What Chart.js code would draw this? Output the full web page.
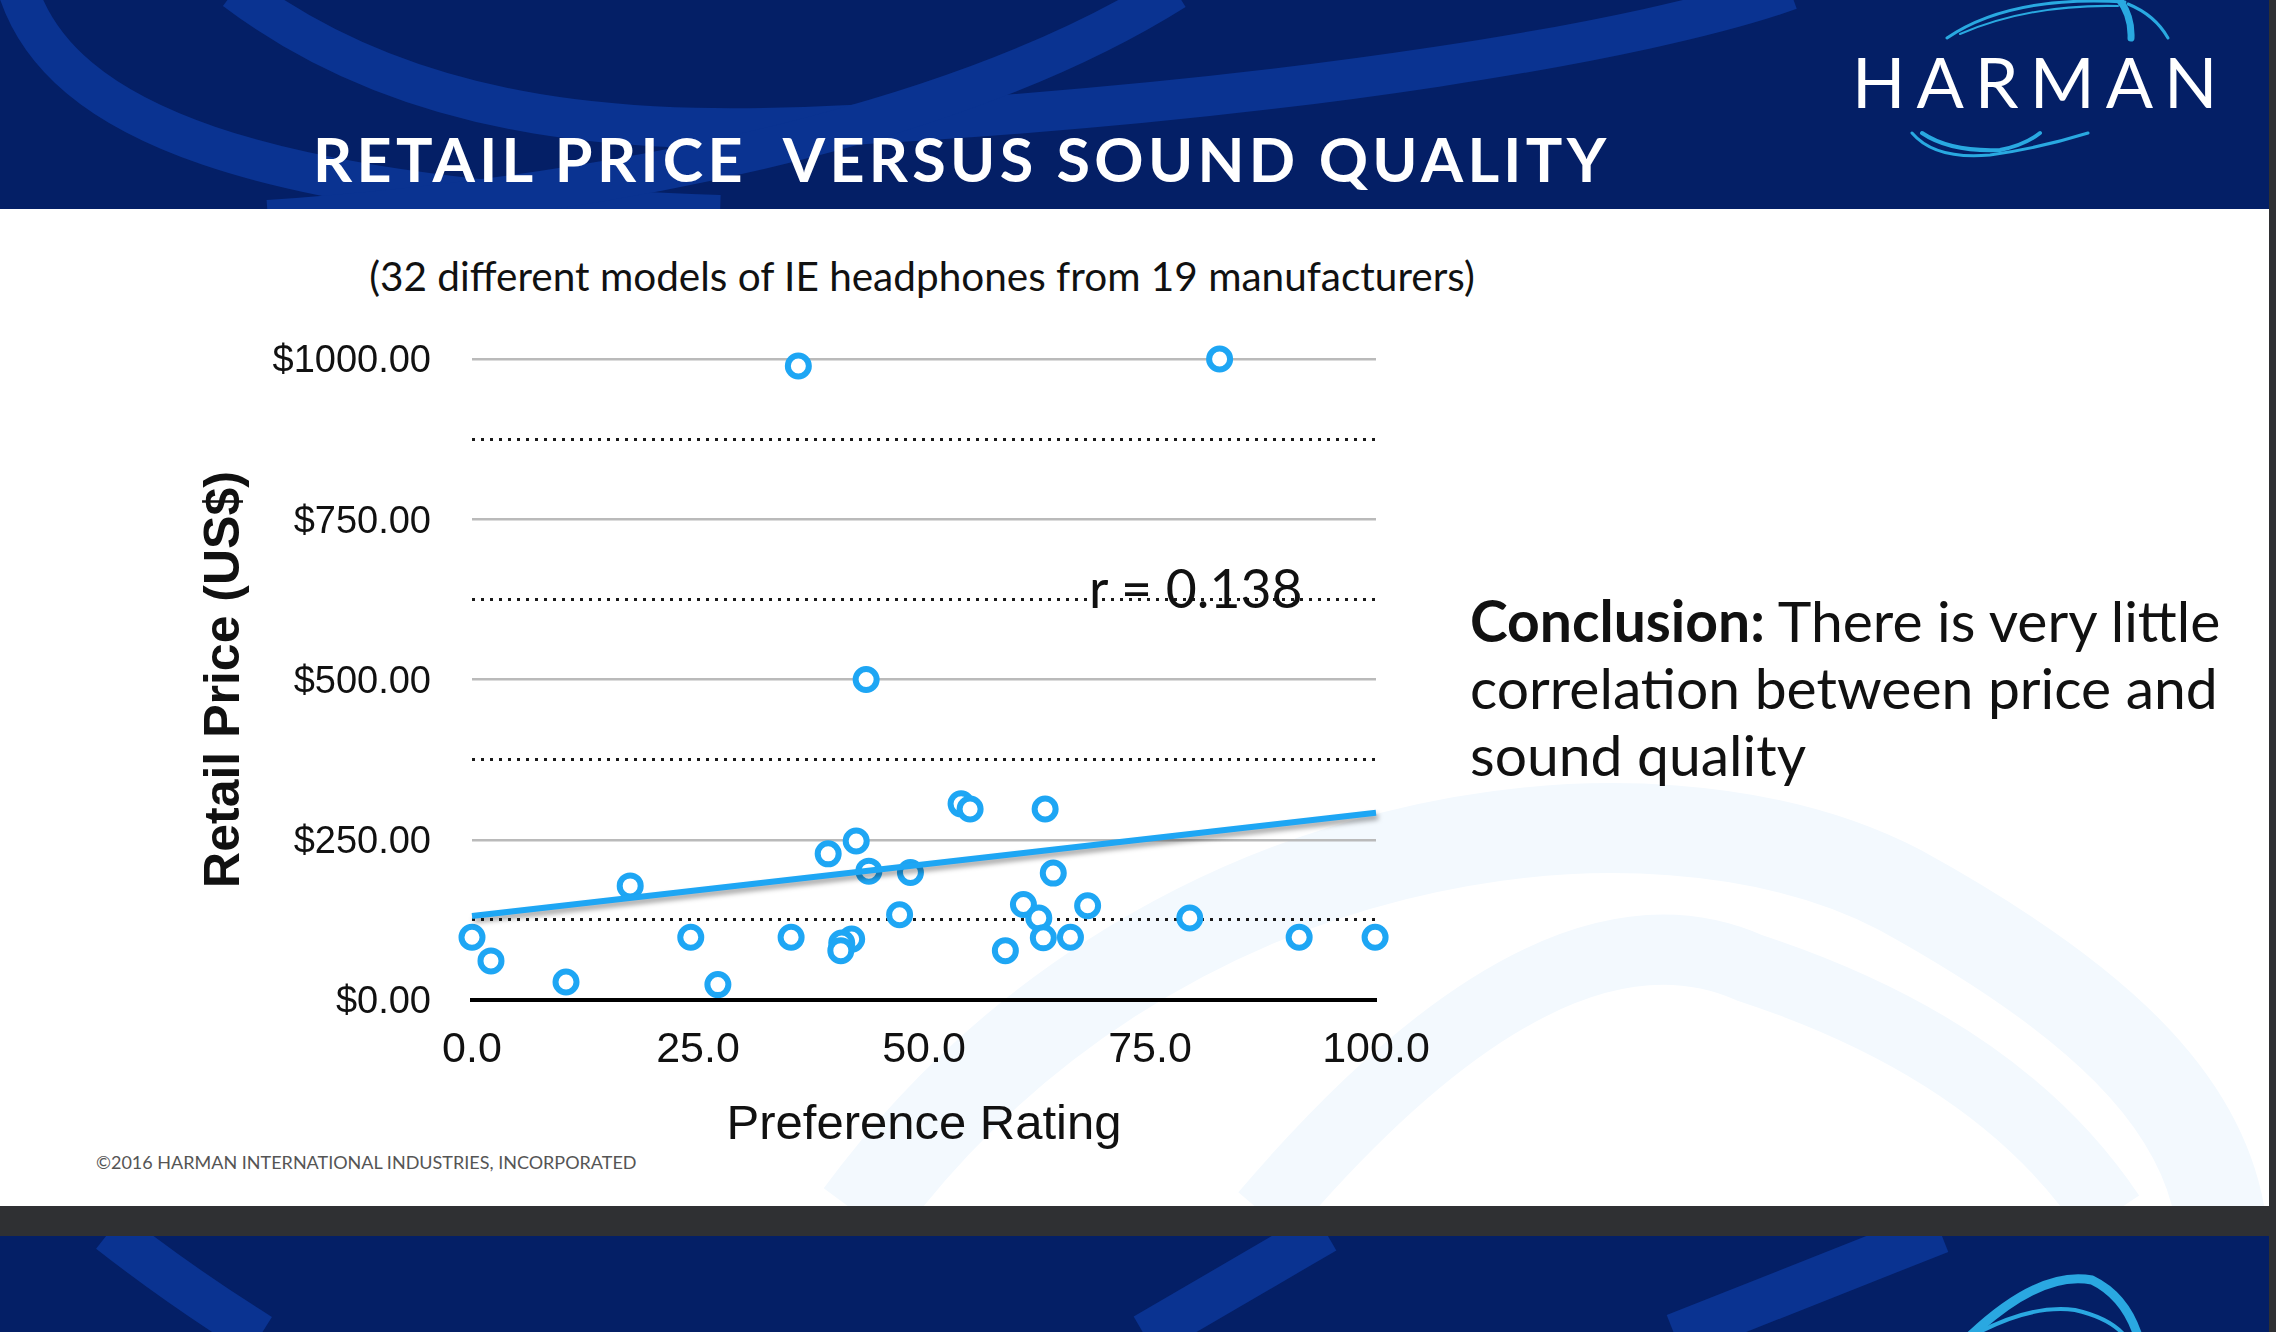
<!DOCTYPE html>
<html>
<head>
<meta charset="utf-8">
<title>Retail Price versus Sound Quality</title>
<script src="https://cdn.jsdelivr.net/npm/chart.js@4.4.1/dist/chart.umd.min.js"></script>
<style>
  html, body { margin: 0; padding: 0; }
  body { width: 2276px; height: 1332px; position: relative; overflow: hidden; background: #2f3033; font-family: Lato, 'Open Sans', sans-serif; }
  #slide { position: absolute; left: 0; top: 0; width: 2269px; height: 1206px; background: #fff; overflow: hidden; }
  #header { position: absolute; left: 0; top: 0; width: 2269px; height: 209px; background: #041f66; overflow: hidden; }
  #next { position: absolute; left: 0; top: 1236px; width: 2269px; height: 96px; background: #041f66; overflow: hidden; }
  svg { position: absolute; left: 0; top: 0; }
  #chartBox { position: absolute; left: 0; top: 0; width: 2276px; height: 1332px; }
  .txt { position: absolute; white-space: nowrap; }
  #title { left: 313px; top: 128px; font-size: 61px; line-height: 61px; font-weight: 700; letter-spacing: 4.3px; color: #fff; }
  #logo { left: 1852px; top: 46px; font-size: 70px; line-height: 70px; color: #fff; letter-spacing: 11px; }
  #subtitle { left: 922px; top: 256px; transform: translateX(-50%); font-size: 40.5px; line-height: 40.5px; color: #111; }
  #rlabel { left: 1089px; top: 561px; font-size: 53.5px; line-height: 53.5px; color: #111; }
  #conclusion { left: 1470px; top: 587px; font-size: 57px; line-height: 67px; color: #111; }
  #copy { left: 96px; top: 1153px; font-size: 18px; line-height: 19px; color: #555; }
</style>
</head>
<body>
<div id="slide">
  <svg width="2269" height="1206">
    <g fill="none" stroke="#f3f9fe">
      <path d="M 860 1215 C 1150 820 1650 760 1900 890 C 2100 1000 2200 1100 2220 1215" stroke-width="90"/>
      <path d="M 1265 1215 Q 1550 880 1750 968 Q 2000 1050 2110 1215" stroke-width="70"/>
    </g>
  </svg>
</div>
<div id="header">
  <svg width="2269" height="209">
    <g fill="none" stroke="#0a3391" stroke-width="40">
      <path d="M 18 -10 C 60 120 250 200 720 215"/>
      <path d="M 235 -10 C 420 130 650 135 850 125 C 1300 100 1650 40 1790 -10"/>
      <path d="M 1175 -10 C 1000 100 700 190 268 220"/>
    </g>
    <g fill="none" stroke="#29a9e1" stroke-linecap="round">
      <path d="M 1947 38 Q 2010 -5 2125 2" stroke-width="3"/>
      <path d="M 1960 34 Q 2030 4 2118 6" stroke-width="2"/>
      <path d="M 2118 -2 Q 2132 15 2131 38" stroke-width="7"/>
      <path d="M 2128 4 Q 2155 15 2168 38" stroke-width="3"/>
      <path d="M 1912 133 Q 1935 160 1990 155 Q 2040 148 2088 133" stroke-width="3"/>
      <path d="M 1922 133 Q 1950 152 2000 150 Q 2025 145 2040 133" stroke-width="4"/>
    </g>
  </svg>
</div>
<div id="next">
  <svg width="2269" height="96">
    <g fill="none" stroke="#0a3391" stroke-width="45">
      <path d="M 110 -5 Q 180 50 260 100"/>
      <path d="M 1325 -5 L 1145 100"/>
      <path d="M 1940 -5 L 1675 100"/>
    </g>
    <g fill="none" stroke="#2aa8e1" stroke-linecap="round">
      <path d="M 1970 100 Q 2040 34 2092 44 Q 2125 60 2138 100" stroke-width="9"/>
      <path d="M 1972 100 Q 2030 68 2075 74 Q 2110 82 2125 100" stroke-width="4"/>
    </g>
  </svg>
</div>

<div class="txt" id="title">RETAIL PRICE&nbsp; VERSUS SOUND QUALITY</div>
<div class="txt" id="logo">HARMAN</div>
<div class="txt" id="subtitle">(32 different models of IE headphones from 19 manufacturers)</div>
<div class="txt" id="conclusion"><b>Conclusion:</b> There is very little<br>correlation between price and<br>sound quality</div>
<div class="txt" id="copy">©2016 HARMAN INTERNATIONAL INDUSTRIES, INCORPORATED</div>

<div id="chartBox"><canvas id="priceChart" width="2276" height="1332"></canvas></div>
<div class="txt" id="rlabel">r = 0.138</div>

<script>
// one entry per headphone model
const preferenceRating = [36.1, 82.7, 43.6, 54.1, 55.1, 63.4, 42.5, 39.4, 43.9, 48.5, 64.3, 17.5, 47.3, 61.0, 62.7, 68.1,
                          79.4, 0.0, 2.1, 10.4, 24.2, 27.2, 35.3, 42.0, 40.9, 40.8, 59.0, 63.2, 66.2, 91.5, 99.9];
const retailPrice = [989, 1000, 500, 306, 298, 298, 248, 228, 201, 199, 198, 178, 133, 149, 128, 147,
                     128, 98, 61, 28, 98, 24, 98, 95, 89, 77, 77, 97, 98, 98, 98];

// linear fit, r = 0.138
const trendRating = [0, 100];
const trendPrice = [131, 292];

const xTicks = [0, 25, 50, 75, 100];
const yTicks = [0, 250, 500, 750, 1000];

const blue = '#1ea6f4';

Chart.defaults.font.family = "'Liberation Sans', Arial, sans-serif";
Chart.defaults.color = '#111';

// soft grey shadow under the trend line
const trendShadow = {
    id: 'trendShadow',
    beforeDatasetDraw(chart, args) {
        if (args.index !== 1) return;
        const ctx = chart.ctx;
        ctx.save();
        ctx.shadowColor = 'rgba(0,0,0,0.35)';
        ctx.shadowBlur = 5;
        ctx.shadowOffsetX = 2;
        ctx.shadowOffsetY = 4;
    },
    afterDatasetDraw(chart, args) {
        if (args.index !== 1) return;
        chart.ctx.restore();
    }
};

function isMajor(ctx) {
    return ctx.tick && yTicks.includes(ctx.tick.value);
}

const ctxPrice = document.getElementById('priceChart').getContext('2d');

new Chart(ctxPrice, {
    type: 'scatter',
    data: {
        datasets: [{
            data: preferenceRating.map((x, i) => ({ x: x, y: retailPrice[i] })),
            pointStyle: 'circle',
            pointRadius: 10.5,
            pointBorderWidth: 6,
            pointBorderColor: blue,
            pointBackgroundColor: '#fff',
            clip: false,
            order: 2
        }, {
            type: 'line',
            data: trendRating.map((x, i) => ({ x: x, y: trendPrice[i] })),
            borderColor: blue,
            borderWidth: 6,
            pointRadius: 0,
            fill: false,
            clip: false,
            order: 1
        }]
    },
    options: {
        responsive: false,
        animation: false,
        events: [],
        layout: { padding: { left: 182, top: 359, right: 900, bottom: 177 } },
        plugins: {
            legend: { display: false },
            tooltip: { enabled: false }
        },
        scales: {
            x: {
                type: 'linear',
                min: 0,
                max: 100,
                afterBuildTicks: s => { s.ticks = xTicks.map(v => ({ value: v })); },
                afterFit: s => { s.height = 155; },
                grid: { display: false, drawTicks: false },
                border: { display: true, color: '#000', width: 4 },
                ticks: {
                    padding: 24,
                    font: { size: 43 },
                    color: '#111',
                    callback: v => Number(v).toFixed(1)
                },
                title: {
                    display: true,
                    text: 'Preference Rating',
                    font: { size: 49 },
                    color: '#111',
                    padding: { top: 0, bottom: 0 }
                }
            },
            y: {
                min: 0,
                max: 1000,
                ticks: {
                    stepSize: 125,
                    autoSkip: false,
                    padding: 41,
                    labelOffset: 3,
                    font: { size: 38 },
                    color: '#111',
                    callback: v => yTicks.includes(v) ? '$' + v.toFixed(2) : ''
                },
                afterFit: s => { s.width = 290; },
                grid: {
                    drawTicks: false,
                    color: c => (c.tick && c.tick.value === 0) ? 'rgba(0,0,0,0)' : (isMajor(c) ? '#bababa' : '#1a1a1a'),
                    lineWidth: c => isMajor(c) ? 2.5 : 3
                },
                border: {
                    display: false,
                    dash: c => isMajor(c) ? [] : [3, 6]
                },
                title: {
                    display: true,
                    text: 'Retail Price (US$)',
                    font: { size: 50, weight: 'bold' },
                    color: '#111',
                    padding: { top: 13, bottom: 0 }
                }
            }
        }
    },
    plugins: [trendShadow]
});
</script>
</body>
</html>
